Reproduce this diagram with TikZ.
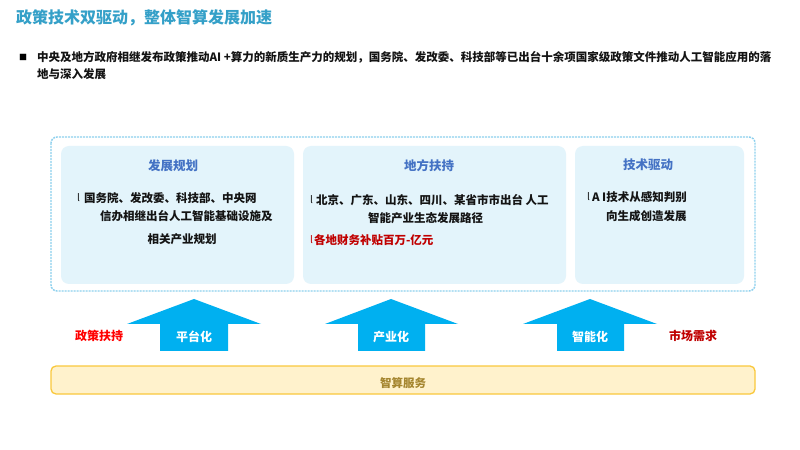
\documentclass[tikz,border=0pt]{standalone}
\usepackage{fontspec}
\setmainfont{Noto Sans CJK SC}
\definecolor{ttl}{RGB}{52,160,200}
\definecolor{boxttl}{RGB}{68,114,196}
\definecolor{boxfill}{RGB}{227,244,251}
\definecolor{outerdash}{RGB}{140,208,238}
\definecolor{arrowblue}{RGB}{0,176,240}
\definecolor{redA}{RGB}{255,0,0}
\definecolor{redB}{RGB}{192,0,0}
\definecolor{yelfill}{RGB}{255,242,204}
\definecolor{yelline}{RGB}{250,200,60}
\definecolor{goldtxt}{RGB}{165,134,47}
\definecolor{bodytxt}{RGB}{20,20,20}
\begin{document}
\begin{tikzpicture}[x=1bp,y=-1bp,
  txt/.style={inner sep=0pt,outer sep=0pt,font=\fontsize{11.5bp}{14bp}\selectfont\bfseries,text=bodytxt},
  lbar/.style={inner sep=0pt,outer sep=0pt,font=\fontsize{10bp}{12bp}\selectfont,text=bodytxt},
  panel/.style={fill=boxfill,draw=none,rounded corners=8bp},
  paneltitle/.style={inner sep=0pt,font=\fontsize{12.5bp}{14bp}\selectfont\bfseries,text=boxttl},
  uparrow/.style={fill=arrowblue,draw=none},
  arrowlabel/.style={inner sep=0pt,font=\fontsize{12bp}{14bp}\selectfont\bfseries,text=white},
  sidelabel/.style={inner sep=0pt,font=\fontsize{12bp}{14bp}\selectfont\bfseries}
]
\useasboundingbox (0,0) rectangle (800,450);
\fill[white] (0,0) rectangle (800,450);

% title
\node[anchor=west,inner sep=0pt,font=\fontsize{16bp}{18bp}\selectfont\bfseries,text=ttl] (title) at (16,18) {政策技术双驱动，整体智算发展加速};

% bullet paragraph
\node[anchor=west,inner sep=0pt,font=\fontsize{8bp}{8bp}\selectfont,text=black] (bul) at (19,57) {■};
\node[txt,anchor=west] (p1) at (37,57) {中央及地方政府相继发布政策推动AI +算力的新质生产力的规划，国务院、发改委、科技部等已出台十余项国家级政策文件推动人工智能应用的落};
\node[txt,anchor=west] (p2) at (37,74) {地与深入发展};

% outer dashed frame
\draw[outerdash,line width=1.4bp,dash pattern=on 2bp off 1bp,rounded corners=6bp] (51,137) rectangle (755,291);
\node[inner sep=0pt] (outer) at (403,214) {};

% panels
\fill[panel] (61,146) rectangle (294,284);
\fill[panel] (303,146) rectangle (566,284);
\fill[panel] (575,146) rectangle (744,284);

% panel 1
\node[paneltitle] (t1) at (173,166) {发展规划};
\node[lbar,anchor=west] (l1a) at (77,198) {l};
\node[txt,anchor=west] (l1) at (84,198) {国务院、发改委、科技部、中央网};
\node[txt,anchor=west] (l2) at (100,216) {信办相继出台人工智能基础设施及};
\node[txt] (l3) at (182,239) {相关产业规划};

% panel 2
\node[paneltitle] (t2) at (429,166) {地方扶持};
\node[lbar,anchor=west] (l4a) at (310,200) {l};
\node[txt,anchor=west] (l4) at (316,200) {北京、广东、山东、四川、某省市市出台 人工};
\node[txt,anchor=west] (l5) at (368,218) {智能产业生态发展路径};
\node[lbar,anchor=west,text=redB] (l6a) at (310,240) {l};
\node[txt,anchor=west,text=redB] (l6) at (314,240) {各地财务补贴百万-亿元};

% panel 3
\node[paneltitle] (t3) at (648,165) {技术驱动};
\node[lbar,anchor=west] (l7a) at (587,197) {l};
\node[txt,anchor=west] (l7) at (592,197) {A I技术从感知判别};
\node[txt,anchor=west] (l8) at (606,216) {向生成创造发展};

% arrows
\fill[uparrow] (194,299) -- (261,324) -- (228,324) -- (228,351) -- (160,351) -- (160,324) -- (127,324) -- cycle;
\node[arrowlabel] (a1) at (194,337) {平台化};
\fill[uparrow] (391,299) -- (458,324) -- (425,324) -- (425,351) -- (358,351) -- (358,324) -- (325,324) -- cycle;
\node[arrowlabel] (a2) at (391,337) {产业化};
\fill[uparrow] (590,299) -- (657,324) -- (624,324) -- (624,351) -- (557,351) -- (557,324) -- (523,324) -- cycle;
\node[arrowlabel] (a3) at (590,337) {智能化};

\node[sidelabel,text=redA] (s1) at (99,336) {政策扶持};
\node[sidelabel,text=redB] (s2) at (693,336) {市场需求};

% bottom bar
\draw[fill=yelfill,draw=yelline,line width=1.3bp,rounded corners=5bp] (51,366) rectangle (755,394);
\node[inner sep=0pt,font=\fontsize{11.5bp}{14bp}\selectfont\bfseries,text=goldtxt] (base) at (403,383) {智算服务};
\end{tikzpicture}
\end{document}
